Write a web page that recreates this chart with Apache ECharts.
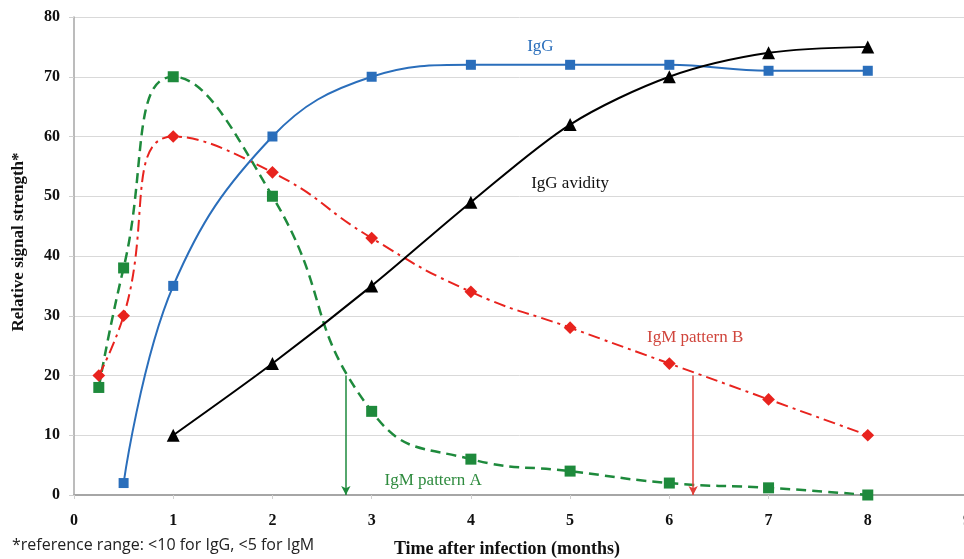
<!DOCTYPE html>
<html>
<head>
    <meta charset="UTF-8">
    <title>Antibody kinetics after infection</title>
    <script src="https://cdn.jsdelivr.net/npm/echarts@6/dist/echarts.min.js"></script>
    <style>
        html, body { margin: 0; padding: 0; background: #fff; }
        #chart { width: 964px; height: 559px; }
    </style>
</head>
<body>
    <div id="chart"></div>
    <script type="text/javascript">
        // months after infection for each curve
        const igmMonths = [0.25, 0.5, 1, 2, 3, 4, 5, 6, 7, 8];
        const iggMonths = [0.5, 1, 2, 3, 4, 5, 6, 7, 8];
        const avidityMonths = [1, 2, 3, 4, 5, 6, 7, 8];

        // relative signal strength values
        const iggValues = [2, 35, 60, 70, 72, 72, 72, 71, 71];
        const avidityValues = [10, 22, 35, 49, 62, 70, 74, 75];
        const igmAValues = [18, 38, 70, 50, 14, 6, 4, 2, 1.2, 0];
        const igmBValues = [20, 30, 60, 54, 43, 34, 28, 22, 16, 10];

        // cut-off arrows (month, start value)
        const arrowA = [2.74, 20];
        const arrowB = [6.24, 20];

        const serif = '"Liberation Serif", "Times New Roman", serif';

        function zip(xs, ys) {
            return xs.map((x, i) => [x, ys[i]]);
        }

        function textMark(coord, text, color) {
            return {
                coord: coord,
                symbolSize: 0,
                itemStyle: { color: 'transparent' },
                label: {
                    show: true,
                    position: 'inside',
                    formatter: text,
                    color: color,
                    fontFamily: serif,
                    fontSize: 17
                }
            };
        }

        function arrowLine(pt, color) {
            return {
                silent: true,
                symbol: ['none', 'arrow'],
                symbolSize: [7, 9],
                label: { show: false },
                lineStyle: { color: color, width: 1.5, type: 'solid' },
                data: [[{ coord: [pt[0], pt[1]] }, { coord: [pt[0], 0] }]]
            };
        }

        var mychart = echarts.init(document.getElementById('chart'), null, { renderer: 'canvas' });

        var option = {
            animation: false,
            grid: { left: 74, top: 17, width: 893, height: 478, outerBoundsMode: 'none' },
            xAxis: {
                type: 'value',
                min: 0,
                max: 9,
                interval: 1,
                axisLine: { show: true, lineStyle: { color: '#a6a6a6', width: 2 } },
                axisTick: { show: true, length: 4, lineStyle: { color: '#d0d0d0' } },
                splitLine: { show: false },
                axisLabel: {
                    margin: 18,
                    color: '#111',
                    fontFamily: serif,
                    fontWeight: 'bold',
                    fontSize: 16
                }
            },
            yAxis: {
                type: 'value',
                min: 0,
                max: 80,
                interval: 10,
                axisLine: { show: true, lineStyle: { color: '#a6a6a6', width: 1.5 } },
                axisTick: { show: true, length: 5, lineStyle: { color: '#d0d0d0' } },
                splitLine: { show: true, lineStyle: { color: '#d9d9d9', width: 1 } },
                axisLabel: {
                    margin: 14,
                    color: '#111',
                    fontFamily: serif,
                    fontWeight: 'bold',
                    fontSize: 16
                }
            },
            graphic: [
                {
                    type: 'text',
                    x: 19,
                    y: 242,
                    rotation: Math.PI / 2,
                    style: {
                        text: 'Relative signal strength*',
                        font: 'bold 17px ' + serif,
                        fill: '#111',
                        align: 'center',
                        verticalAlign: 'middle'
                    }
                },
                {
                    type: 'text',
                    x: 507,
                    y: 549,
                    style: {
                        text: 'Time after infection (months)',
                        font: 'bold 18px ' + serif,
                        fill: '#111',
                        align: 'center',
                        verticalAlign: 'middle'
                    }
                },
                {
                    type: 'text',
                    x: 12,
                    y: 545,
                    style: {
                        text: '*reference range: <10 for IgG, <5 for IgM',
                        font: '16px "Open Sans", "Noto Sans", sans-serif',
                        fill: '#222',
                        align: 'left',
                        verticalAlign: 'middle'
                    }
                }
            ],
            series: [
                {
                    name: 'IgM pattern A',
                    type: 'line',
                    smooth: 0.5,
                    data: zip(igmMonths, igmAValues),
                    symbol: 'rect',
                    symbolSize: 11,
                    itemStyle: { color: '#1e8a3c' },
                    lineStyle: { color: '#1e8a3c', width: 2.5, type: [10, 6] },
                    markLine: arrowLine(arrowA, '#1e8a3c'),
                    markPoint: { silent: true, data: [textMark([3.62, 2.4], 'IgM pattern A', '#2e8b3e')] },
                    z: 3
                },
                {
                    name: 'IgM pattern B',
                    type: 'line',
                    smooth: 0.5,
                    data: zip(igmMonths, igmBValues),
                    symbol: 'rect',
                    symbolRotate: 45,
                    symbolSize: 9,
                    itemStyle: { color: '#e8231e' },
                    lineStyle: { color: '#e8231e', width: 2, type: [12, 5, 3, 5] },
                    markLine: arrowLine(arrowB, '#e0403a'),
                    markPoint: { silent: true, data: [textMark([6.26, 26.4], 'IgM pattern B', '#d0453c')] },
                    z: 3
                },
                {
                    name: 'IgG',
                    type: 'line',
                    smooth: 0.4,
                    data: zip(iggMonths, iggValues),
                    symbol: 'rect',
                    symbolSize: 10,
                    itemStyle: { color: '#2a6ebb' },
                    lineStyle: { color: '#2a6ebb', width: 2 },
                    markPoint: { silent: true, data: [textMark([4.7, 75], 'IgG', '#2a6ebb')] },
                    z: 4
                },
                {
                    name: 'IgG avidity',
                    type: 'line',
                    smooth: 0.3,
                    data: zip(avidityMonths, avidityValues),
                    symbol: 'triangle',
                    symbolSize: 13,
                    itemStyle: { color: '#000' },
                    lineStyle: { color: '#000', width: 2 },
                    markPoint: { silent: true, data: [textMark([5.0, 52.2], 'IgG avidity', '#111')] },
                    z: 4
                }
            ]
        };

        mychart.setOption(option);
    </script>
</body>
</html>
